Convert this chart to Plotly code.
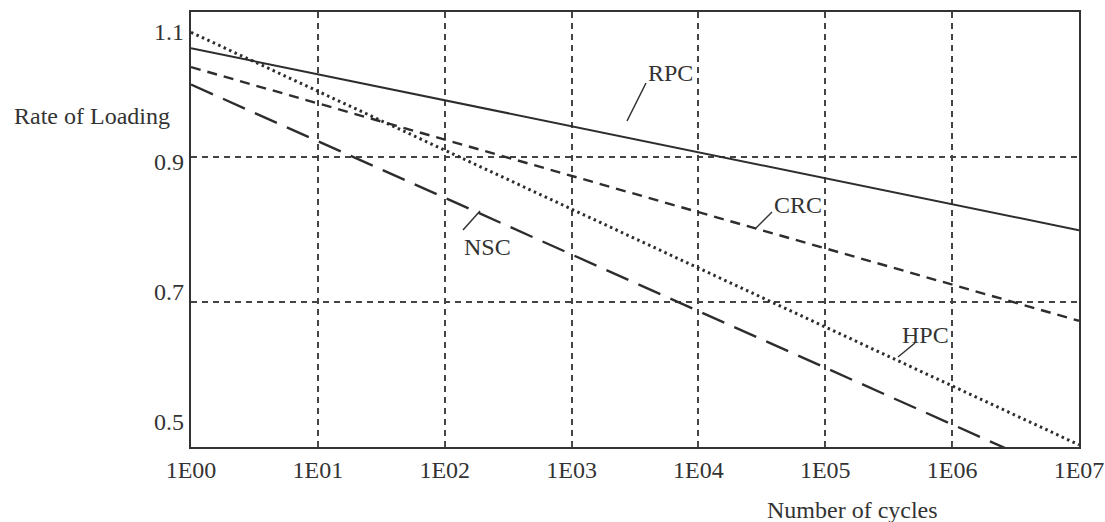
import plotly.graph_objects as go

# Data
cycles = [1, 1e7]
rpc = [1.050, 0.799]
crc = [1.024, 0.674]
hpc = [1.072, 0.503]
nsc = [1.000, 0.453]

x_tickvals = [1, 10, 100, 1e3, 1e4, 1e5, 1e6, 1e7]
x_ticktext = ["1E00", "1E01", "1E02", "1E03", "1E04", "1E05", "1E06", "1E07"]
y_tickvals = [0.5, 0.7, 0.9, 1.1]
y_ticktext = ["0.5", "0.7", "0.9", "1.1"]

FONT = "Liberation Serif"
LC = "#2d2d2d"
FS = 24

fig = go.Figure()
fig.add_trace(go.Scatter(x=cycles, y=rpc, mode="lines", line=dict(color=LC, width=2, dash="solid"), name="RPC"))
fig.add_trace(go.Scatter(x=cycles, y=crc, mode="lines", line=dict(color=LC, width=2.4, dash="10px,7px"), name="CRC"))
fig.add_trace(go.Scatter(x=cycles, y=hpc, mode="lines", line=dict(color=LC, width=3, dash="2.5px,3.5px"), name="HPC"))
fig.add_trace(go.Scatter(x=cycles, y=nsc, mode="lines", line=dict(color=LC, width=2.4, dash="24px,11px"), name="NSC"))
# carrier for the label axis
fig.add_trace(go.Scatter(x=[None], y=[None], yaxis="y2", showlegend=False, hoverinfo="skip"))

fig.update_layout(
    width=1105, height=522,
    margin=dict(l=191, r=26, t=12, b=75, autoexpand=False),
    plot_bgcolor="white", paper_bgcolor="white",
    showlegend=False,
    font=dict(family=FONT, size=FS, color="#333"),
    xaxis=dict(
        type="log", range=[0, 7], automargin=False,
        tickvals=x_tickvals, ticktext=x_ticktext,
        showgrid=True, gridcolor="#444", griddash="6px,5px", gridwidth=1.5,
        showline=True, linecolor="#333", linewidth=2, mirror=True,
        ticks="inside", ticklen=4, tickcolor="#555",
        tickfont=dict(family=FONT, size=FS, color="#333"),
        zeroline=False,
    ),
    yaxis=dict(
        range=[0.5, 1.1], automargin=False,
        tickvals=y_tickvals, showticklabels=False,
        showgrid=True, gridcolor="#444", griddash="6px,5px", gridwidth=1.5,
        showline=True, linecolor="#333", linewidth=2, mirror=True,
        ticks="", zeroline=False,
    ),
    yaxis2=dict(
        overlaying="y", side="left", automargin=False,
        range=[0.4615, 1.1308],
        tickvals=y_tickvals, ticktext=y_ticktext,
        ticklabelstandoff=6,
        showgrid=False, showline=False, zeroline=False, ticks="",
        tickfont=dict(family=FONT, size=FS, color="#333"),
    ),
)

def px(xp, yp):
    return (xp - 191) / 888, (447 - yp) / 435

# axis titles
for txt, (tx, ty) in [("Rate of Loading", (92, 116)), ("Number of cycles", (852, 510))]:
    a = px(tx, ty)
    fig.add_annotation(text=txt, xref="paper", yref="paper", x=a[0], y=a[1],
                       xanchor="center", yanchor="middle", showarrow=False,
                       font=dict(family=FONT, size=FS, color="#333"))

# series labels with leader lines
labels = [
    ("RPC", (670, 73), ((646, 83), (627, 121))),
    ("CRC", (798, 205), ((772, 212), (755, 229))),
    ("NSC", (487, 247), ((463, 230), (480, 211))),
    ("HPC", (925, 335), ((915, 343), (898, 357))),
]
for txt, (tx, ty), ((x0, y0), (x1, y1)) in labels:
    a = px(tx, ty)
    fig.add_annotation(text=txt, xref="paper", yref="paper", x=a[0], y=a[1],
                       xanchor="center", yanchor="middle", showarrow=False,
                       font=dict(family=FONT, size=FS, color="#333"))
    a0 = px(x0, y0)
    a1 = px(x1, y1)
    fig.add_shape(type="line", xref="paper", yref="paper",
                  x0=a0[0], y0=a0[1], x1=a1[0], y1=a1[1],
                  line=dict(color="#333", width=1.5))

fig.write_html("out.html")
